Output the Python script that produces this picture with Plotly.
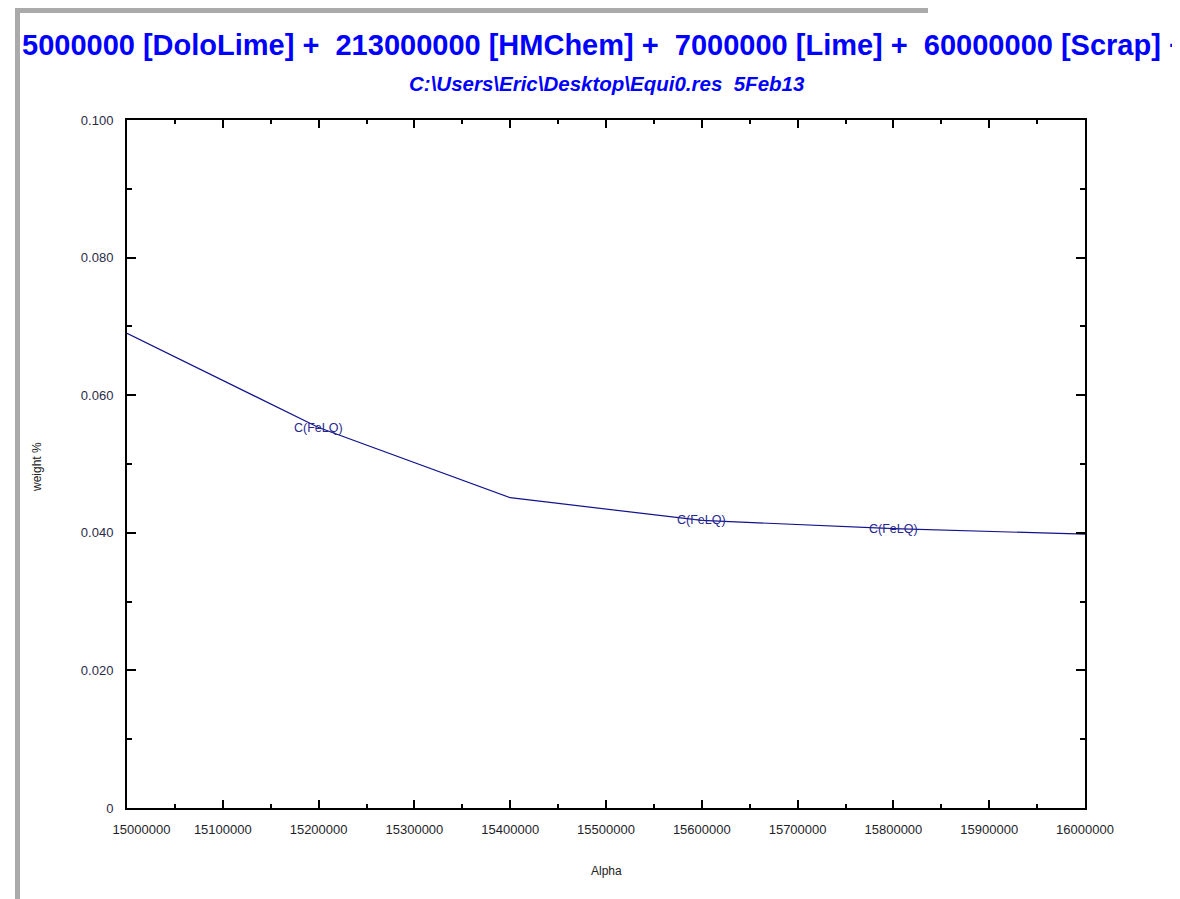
import plotly.graph_objects as go

# ---- data ----
alpha = [15000000, 15200000, 15400000, 15600000, 15800000, 16000000]
weight_pct = [0.0690, 0.0553, 0.0451, 0.0418, 0.0406, 0.0398]

label_x = [15200000, 15600000, 15800000]
label_text = ["C(FeLQ)", "C(FeLQ)", "C(FeLQ)"]

y_tickvals = [0, 0.02, 0.04, 0.06, 0.08, 0.10]
y_ticktext = ["0", "0.020", "0.040", "0.060", "0.080", "0.100"]
x_tickvals = [15000000, 15100000, 15200000, 15300000, 15400000, 15500000,
              15600000, 15700000, 15800000, 15900000, 16000000]
x_ticktext = [str(v) for v in x_tickvals]
# first label sits to the right of its tick in the original
x_ticktext[0] = "\u00a0" * 8 + x_ticktext[0]

title_text = "5000000 [DoloLime] +  213000000 [HMChem] +  7000000 [Lime] +  60000000 [Scrap] +"
subtitle_text = "C:\\Users\\Eric\\Desktop\\Equi0.res  5Feb13"

# ---- layout geometry (pixels) ----
W, H = 1180, 899
OFF = 8  # page body margin
PL, PR, PT, PB = 127, 1085, 120, 808  # plot box in page pixels
L = PL - OFF
T = PT - OFF
R = W - (PR - OFF)
B = H - (PB - OFF)
PW, PH = PR - PL, PB - PT


def px(x):
    return (x - PL) / PW


def py(y):
    return (PB - y) / PH


fig = go.Figure()
fig.add_trace(go.Scatter(
    x=alpha, y=weight_pct, mode="lines",
    line=dict(color="#12128c", width=1.2),
    hoverinfo="skip", showlegend=False,
))

# curve labels, placed on the curve
for xv, txt in zip(label_x, label_text):
    yv = None
    for i in range(len(alpha) - 1):
        if alpha[i] <= xv <= alpha[i + 1]:
            f = (xv - alpha[i]) / (alpha[i + 1] - alpha[i])
            yv = weight_pct[i] + f * (weight_pct[i + 1] - weight_pct[i])
            break
    fig.add_annotation(x=xv, y=yv, xref="x", yref="y", text=txt, showarrow=False,
                       font=dict(family="Arial, Liberation Sans", size=12.5, color="#27278f"))

fig.add_annotation(x=px(20), y=py(45), xref="paper", yref="paper", text="<b>" + title_text + "</b>",
                   showarrow=False, xanchor="left", yanchor="middle",
                   font=dict(family="Arial, Liberation Sans", size=29, color="#0000ff"))
fig.add_annotation(x=px(607), y=py(83), xref="paper", yref="paper", text="<b><i>" + subtitle_text + "</i></b>",
                   showarrow=False, xanchor="center", yanchor="middle",
                   font=dict(family="Arial, Liberation Sans", size=20.5, color="#0000ff"))
fig.add_annotation(x=px(606), y=py(871), xref="paper", yref="paper", text="Alpha",
                   showarrow=False, xanchor="center", yanchor="middle",
                   font=dict(family="Arial, Liberation Sans", size=12, color="#222222"))
fig.add_annotation(x=px(37), y=py(467), xref="paper", yref="paper", text="weight %",
                   showarrow=False, textangle=-90, xanchor="center", yanchor="middle",
                   font=dict(family="Arial, Liberation Sans", size=12, color="#222222"))

# gray frame pieces of the window
gray = "#aaaaaa"
fig.add_shape(type="rect", xref="paper", yref="paper", x0=px(15), x1=px(20), y0=py(H + 10), y1=py(5),
              fillcolor=gray, line_width=0, layer="above")
fig.add_shape(type="rect", xref="paper", yref="paper", x0=px(15), x1=px(928), y0=py(13), y1=py(5),
              fillcolor=gray, line_width=0, layer="above")
fig.add_shape(type="rect", xref="paper", yref="paper", x0=px(928), x1=px(W + 10), y0=py(8), y1=py(5),
              fillcolor=gray, line_width=0, layer="above")

fig.update_layout(
    width=W, height=H,
    margin=dict(l=L, r=R, t=T, b=B, pad=0),
    paper_bgcolor="white", plot_bgcolor="white",
    font=dict(family="Arial, Liberation Sans", size=13),
    xaxis=dict(
        range=[15000000, 16000000], showgrid=False, zeroline=False,
        showline=True, linecolor="black", linewidth=2, mirror="allticks",
        ticks="inside", ticklen=8, tickwidth=2, tickcolor="black",
        tickvals=x_tickvals, ticktext=x_ticktext,
        tickfont=dict(size=13, color="#1e1e2a"), ticklabelstandoff=8,
        minor=dict(ticks="inside", ticklen=4, tickwidth=2, tickcolor="black", dtick=50000, showgrid=False),
    ),
    yaxis=dict(
        range=[0, 0.1], showgrid=False, zeroline=False,
        showline=True, linecolor="black", linewidth=2, mirror="allticks",
        ticks="inside", ticklen=9, tickwidth=2, tickcolor="black",
        tickvals=y_tickvals, ticktext=y_ticktext,
        tickfont=dict(size=13, color="#2b2b48"), ticklabelstandoff=9,
        minor=dict(ticks="inside", ticklen=5, tickwidth=2, tickcolor="black", dtick=0.01, showgrid=False),
    ),
)

fig.write_html("out.html")
